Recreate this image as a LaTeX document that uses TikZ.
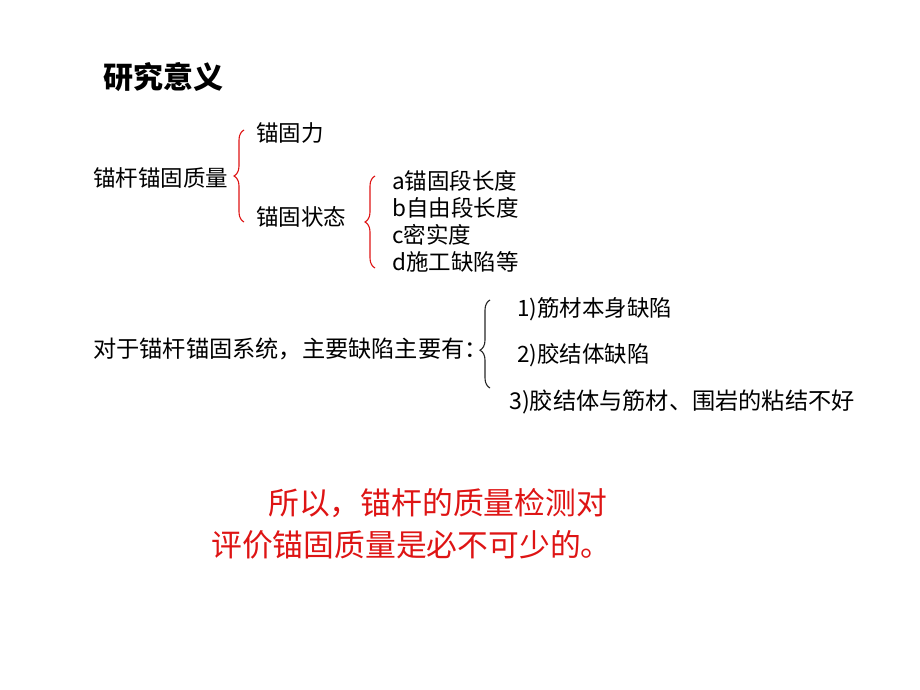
\documentclass[tikz,border=0pt]{standalone}
\usepackage{fontspec}
\setmainfont{Noto Sans CJK SC}
\usetikzlibrary{decorations.pathreplacing}
\definecolor{slidered}{RGB}{222,20,20}
\tikzset{
  item/.style={anchor=west, inner sep=0pt, font=\fontsize{22.5}{26}\selectfont},
  wideitem/.style={item, font=\fontsize{23.2}{26}\selectfont},
  redtext/.style={anchor=west, inner sep=0pt, text=slidered, font=\fontsize{30.8}{34}\selectfont},
  bracket/.style={decorate, line width=1.1pt, decoration={brace, amplitude=10pt}},
  redbracket/.style={bracket, draw=slidered}
}
\begin{document}
\begin{tikzpicture}[x=1pt,y=-1pt]
\useasboundingbox (0,0) rectangle (920,690);
\node (title) [anchor=west, inner sep=0pt, font=\fontsize{30}{32}\selectfont\bfseries] at (103,77) {研究意义};

\node (quality) [item] at (93,178) {锚杆锚固质量};
\node (force) [item] at (256,133) {锚固力};
\node (state) [item] at (256,217) {锚固状态};
\node (lena) [item] at (392,181) {a锚固段长度};
\node (lenb) [item] at (392,208) {b自由段长度};
\node (dense) [item] at (392,235) {c密实度};
\node (defect) [item] at (392,262) {d施工缺陷等};
\coordinate (qtop) at (244,130);
\coordinate (qbot) at (244,222);
\coordinate (stop) at (375,176);
\coordinate (sbot) at (375,268);
\draw [redbracket] (qbot) -- (qtop);
\draw [redbracket] (sbot) -- (stop);

\node (system) [wideitem] at (93,349) {对于锚杆锚固系统，主要缺陷主要有：};
\node (one) [item] at (517,309) {1)筋材本身缺陷};
\node (two) [item] at (517,355) {2)胶结体缺陷};
\node (three) [wideitem] at (509,402) {3)胶结体与筋材、围岩的粘结不好};
\coordinate (ytop) at (490,300);
\coordinate (ybot) at (490,388);
\draw [bracket, draw=black!85, decoration={aspect=0.43}] (ybot) -- (ytop);

\node (concl1) [redtext] at (268,503) {所以，锚杆的质量检测对};
\node (concl2) [redtext] at (211,545) {评价锚固质量是必不可少的。};
\end{tikzpicture}
\end{document}
